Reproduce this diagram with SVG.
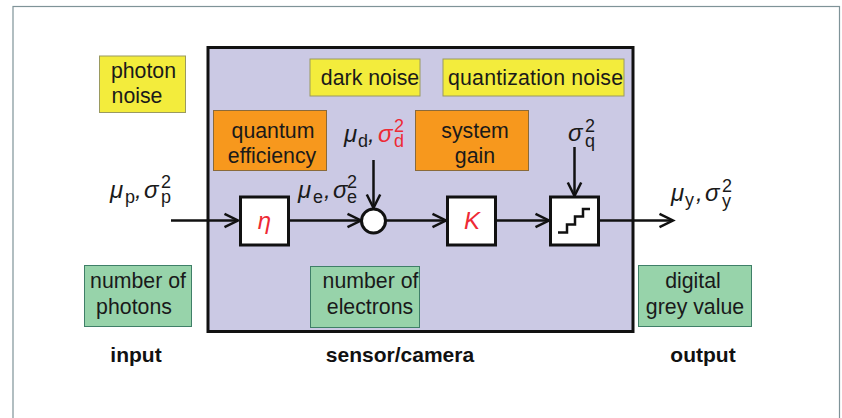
<svg xmlns="http://www.w3.org/2000/svg" width="842" height="418" viewBox="0 0 842 418">
<style>
text{font-family:"Liberation Sans",Arial,sans-serif;fill:#1a1a1a}
.t{font-size:21.300px;text-anchor:middle}
.b{font-size:21px;font-weight:700;text-anchor:middle;fill:#111}
.m{font-size:24px;font-style:italic}
.s{font-size:18px}
.y{fill:#f3ec3c;stroke:#9a9a60;stroke-width:1}
.o{fill:#f7981d;stroke:#8a6a3a;stroke-width:1}
.g{fill:#97d3aa;stroke:#3f7f68;stroke-width:1}
.w{fill:#fff;stroke:#111;stroke-width:3}
.l{fill:none;stroke:#111;stroke-width:2.5}
.r{fill:#ee2a35}
</style>
<defs>
<marker id="a" markerUnits="userSpaceOnUse" markerWidth="18" markerHeight="18" refX="14" refY="8" orient="auto" overflow="visible">
<path d="M0.5 1.300L14 8L0.5 14.700" fill="none" stroke="#111" stroke-width="2.5"/>
</marker>
</defs>
<rect id="frame" x="13" y="6.5" width="826.5" height="420" fill="#fff" stroke="#7f9398" stroke-width="1.2"/>
<g id="sensor"><rect x="208" y="47.5" width="425" height="284" fill="#cbc9e4" stroke="#111" stroke-width="3"/><text class="b" x="400" y="362">sensor/camera</text></g>
<g id="photon-noise"><rect class="y" x="99.500" y="56" width="86" height="56.500"/><text class="t" x="143.500" y="78">photon</text><text class="t" x="137" y="103">noise</text></g>
<g id="dark-noise"><rect class="y" x="310" y="59" width="110" height="37"/><text class="t" x="370" y="85">dark noise</text></g>
<g id="quantization-noise"><rect class="y" x="443" y="59" width="181" height="37"/><text class="t" x="535.500" y="85" textLength="175" lengthAdjust="spacing">quantization noise</text></g>
<g id="quantum-efficiency"><rect class="o" x="213.500" y="110.500" width="113" height="60"/><text class="t" x="273" y="138">quantum</text><text class="t" x="272" y="163">efficiency</text></g>
<g id="system-gain"><rect class="o" x="415.500" y="110.500" width="113" height="60"/><text class="t" x="475" y="138">system</text><text class="t" x="475" y="163">gain</text></g>
<g id="number-of-photons"><rect class="g" x="84.500" y="265.500" width="107" height="61"/><text class="t" x="138" y="288">number of</text><text class="t" x="134" y="314">photons</text></g>
<g id="number-of-electrons"><rect class="g" x="310.500" y="266.500" width="109" height="61"/><text class="t" x="370.500" y="288">number of</text><text class="t" x="370" y="314">electrons</text></g>
<g id="digital-grey-value"><rect class="g" x="638.500" y="265.500" width="113" height="61"/><text class="t" x="693" y="288">digital</text><text class="t" x="695" y="314">grey value</text></g>
<g id="input-label"><text class="b" x="136" y="362">input</text></g>
<g id="output-label"><text class="b" x="703" y="362">output</text></g>
<g id="connectors">
<path class="l" d="M171 220.500H238" marker-end="url(#a)"/>
<path class="l" d="M289 220.500H361" marker-end="url(#a)"/>
<path class="l" d="M373.500 160V208" marker-end="url(#a)"/>
<path class="l" d="M386 220.500H446" marker-end="url(#a)"/>
<path class="l" d="M496 220.500H549" marker-end="url(#a)"/>
<path class="l" d="M574.500 147V196" marker-end="url(#a)"/>
<path class="l" d="M599 220.500H673" marker-end="url(#a)"/>
</g>
<g id="eta"><rect class="w" x="240.500" y="197" width="48" height="48"/><text class="m r" x="264.500" y="229" text-anchor="middle">η</text></g>
<g id="sum"><circle class="w" cx="373.500" cy="221" r="12"/></g>
<g id="gain"><rect class="w" x="447.500" y="197" width="48" height="48"/><text class="m r" x="472" y="229" text-anchor="middle">K</text></g>
<g id="quantizer"><rect class="w" x="550.500" y="197" width="48" height="48"/><path d="M558 232.500H567V224.500H575V216.500H583V209H590" fill="none" stroke="#111" stroke-width="2.500"/></g>
<g id="label-p"><text class="m" x="110" y="198">μ</text><text class="s" x="125" y="203">p</text><text class="m" x="135" y="198">,</text><text class="m" x="144" y="198">σ</text><text class="s" x="161" y="188">2</text><text class="s" x="161" y="203">p</text></g>
<g id="label-e"><text class="m" x="298" y="198">μ</text><text class="s" x="313" y="203">e</text><text class="m" x="324" y="198">,</text><text class="m" x="333" y="198">σ</text><text class="s" x="347" y="188">2</text><text class="s" x="347" y="203">e</text></g>
<g id="label-d"><text class="m" x="344" y="142">μ</text><text class="s" x="358" y="147">d</text><text class="m" x="368" y="142">,</text><text class="m r" x="378" y="142">σ</text><text class="s r" x="394" y="132">2</text><text class="s r" x="394" y="147">d</text></g>
<g id="label-q"><text class="m" x="568" y="141">σ</text><text class="s" x="585" y="132">2</text><text class="s" x="585" y="147">q</text></g>
<g id="label-y"><text class="m" x="671" y="201">μ</text><text class="s" x="685" y="206">y</text><text class="m" x="696" y="201">,</text><text class="m" x="705" y="201">σ</text><text class="s" x="722" y="192">2</text><text class="s" x="722" y="207">y</text></g>
</svg>
